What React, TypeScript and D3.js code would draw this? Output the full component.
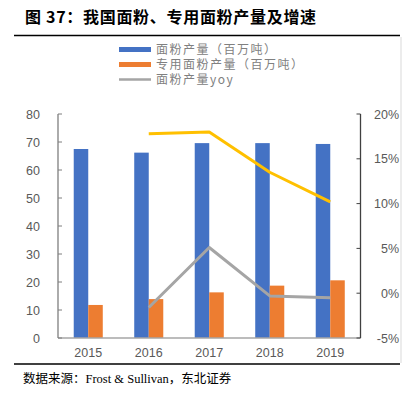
import * as d3 from 'd3'

const years = ['2015', '2016', '2017', '2018', '2019']
const flourOutput = [67.5, 66.2, 69.6, 69.6, 69.3]
const specialOutput = [11.8, 13.9, 16.3, 18.7, 20.6]
// yoy only from 2016
const flourYoy = [null, -1.6, 5.1, -0.3, -0.5]
const specialYoy = [null, 17.8, 18.0, 13.5, 10.2]
const leftTicks = [0, 10, 20, 30, 40, 50, 60, 70, 80]
const rightTicks = [-5, 0, 5, 10, 15, 20]

const legendItems = [
  { label: '面粉产量（百万吨）', color: '#4472c4', kind: 'bar' },
  { label: '专用面粉产量（百万吨）', color: '#ed7d31', kind: 'bar' },
  { label: '面粉产量yoy', color: '#a5a5a5', kind: 'line' },
]

const W = 415
const H = 398

export default function App() {
  const left = 58
  const right = 360.5
  const top = 114
  const bottom = 338

  const x = d3.scaleBand<string>().domain(years).range([left, right])
  const yL = d3.scaleLinear().domain([0, 80]).range([bottom, top])
  const yR = d3.scaleLinear().domain([-5, 20]).range([bottom, top])
  const barW = x.bandwidth() * 0.24

  const line = d3
    .line<{ year: string; v: number | null }>()
    .defined(d => d.v !== null)
    .x(d => (x(d.year) ?? 0) + x.bandwidth() / 2)
    .y(d => yR(d.v as number))

  const tickFont = "'Liberation Sans', Arial, sans-serif"

  return (
    <svg width={W} height={H} style={{ position: 'absolute', left: 0, top: 0 }}>
      <rect width={W} height={H} fill="#fff" />
      <text
        x={25}
        y={23}
        fontFamily="'Noto Sans CJK SC', sans-serif"
        fontWeight={700}
        fontSize={16}
        letterSpacing={0.7}
        fill="#000"
      >
        图 37：我国面粉、专用面粉产量及增速
      </text>
      <line x1={14} x2={400} y1={35.5} y2={35.5} stroke="#000" strokeWidth={1.3} />
      <line x1={401} x2={401} y1={37} y2={363} stroke="#d9d9d9" strokeWidth={1} />
      <line x1={14} x2={400} y1={364} y2={364} stroke="#000" strokeWidth={1.3} />

      {/* legend */}
      {legendItems.map((d, i) => {
        const ly = 49.5 + i * 15
        return (
          <g key={d.label}>
            {d.kind === 'bar' ? (
              <rect x={119} y={ly - 2.5} width={32} height={5} fill={d.color} />
            ) : (
              <line x1={119} x2={151} y1={ly} y2={ly} stroke={d.color} strokeWidth={2.5} />
            )}
            <text
              x={156}
              y={ly + 4.2}
              fontFamily="'Noto Sans CJK SC', sans-serif"
              fontSize={12}
              letterSpacing={1.5}
              fill="#808080"
            >
              {d.label}
            </text>
          </g>
        )
      })}

      {/* bars */}
      {years.map((yr, i) => {
        const cx = (x(yr) ?? 0) + x.bandwidth() / 2
        return (
          <g key={yr}>
            <rect
              x={cx - barW}
              y={yL(flourOutput[i])}
              width={barW}
              height={bottom - yL(flourOutput[i])}
              fill="#4472c4"
            />
            <rect
              x={cx}
              y={yL(specialOutput[i])}
              width={barW}
              height={bottom - yL(specialOutput[i])}
              fill="#ed7d31"
            />
          </g>
        )
      })}

      {/* lines */}
      <path
        d={line(years.map((year, i) => ({ year, v: specialYoy[i] }))) ?? ''}
        fill="none"
        stroke="#ffc000"
        strokeWidth={3}
        strokeLinejoin="round"
      />
      <path
        d={line(years.map((year, i) => ({ year, v: flourYoy[i] }))) ?? ''}
        fill="none"
        stroke="#a5a5a5"
        strokeWidth={3}
        strokeLinejoin="round"
      />

      {/* axes */}
      <line x1={left} x2={right} y1={bottom} y2={bottom} stroke="#a6a6a6" strokeWidth={1.3} />
      <line x1={left} x2={left} y1={top} y2={bottom} stroke="#7f7f7f" strokeWidth={1.3} />
      <line x1={right} x2={right} y1={top} y2={bottom} stroke="#404040" strokeWidth={1.3} />
      {leftTicks.map(t => (
        <g key={'l' + t}>
          <line x1={left} x2={left + 4} y1={yL(t)} y2={yL(t)} stroke="#7f7f7f" />
          <text
            x={40}
            y={yL(t) + 4.5}
            textAnchor="end"
            fontFamily={tickFont}
            fontSize={12.5}
            fill="#595959"
          >
            {t}
          </text>
        </g>
      ))}
      {rightTicks.map(t => (
        <g key={'r' + t}>
          <line x1={right - 4} x2={right} y1={yR(t)} y2={yR(t)} stroke="#404040" />
          <text
            x={399}
            y={yR(t) + 4.5}
            textAnchor="end"
            fontFamily={tickFont}
            fontSize={12.5}
            fill="#595959"
          >
            {t}%
          </text>
        </g>
      ))}
      {years.map(yr => (
        <text
          key={'x' + yr}
          x={(x(yr) ?? 0) + x.bandwidth() / 2}
          y={357}
          textAnchor="middle"
          fontFamily={tickFont}
          fontSize={12.5}
          fill="#595959"
        >
          {yr}
        </text>
      ))}

      <text
        x={23}
        y={382.5}
        fontFamily="'Liberation Serif', 'Noto Sans CJK SC', serif"
        fontSize={12.5}
        fill="#000"
      >
        数据来源：Frost &amp; Sullivan，东北证券
      </text>
    </svg>
  )
}
